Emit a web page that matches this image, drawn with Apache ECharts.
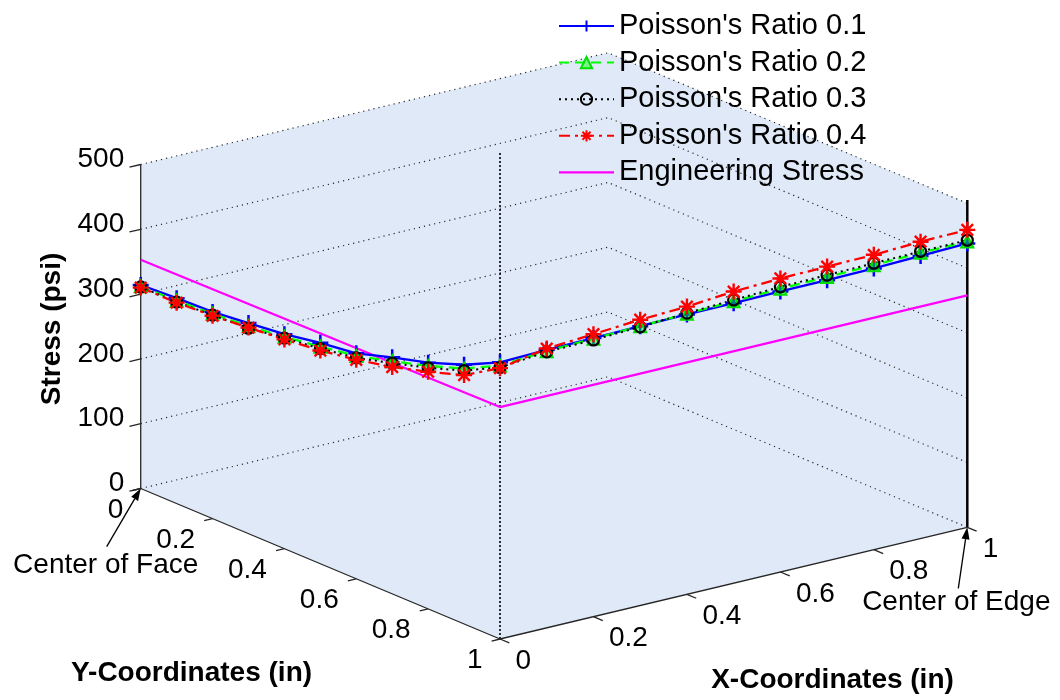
<!DOCTYPE html>
<html>
<head>
<meta charset="utf-8">
<script src="https://cdn.jsdelivr.net/npm/echarts@6/dist/echarts.min.js"></script>
<style>
html,body{margin:0;padding:0;background:#ffffff;}
#chart{width:1060px;height:700px;}
</style>
</head>
<body>
<div id="chart"></div>
<script>
// ---------------- DATA ----------------
// positions along the face (X = 0, Y from 0 to 1) and along the edge (Y = 1, X from 0 to 1)
const faceY = [0, 0.1, 0.2, 0.3, 0.4, 0.5, 0.6, 0.7, 0.8, 0.9, 1];
const edgeX = [0, 0.1, 0.2, 0.3, 0.4, 0.5, 0.6, 0.7, 0.8, 0.9, 1];

// stress (psi) along the face, Y = 0 .. 1
const nu01Face = [314, 317, 319, 325, 331, 341, 348, 365, 380, 400, 427];
const nu02Face = [312, 313, 316, 320, 327, 335, 344, 359, 375, 394, 422];
const nu03Face = [311, 311, 314, 317, 325, 332, 341, 356, 372, 391, 419];
const nu04Face = [310, 310, 313, 318, 323, 329, 338, 350, 366, 384, 418];
// stress (psi) along the edge, X = 0 .. 1
const nu01Edge = [427, 429, 430, 431, 432, 432, 433, 433, 434, 436, 438];
const nu02Edge = [422, 427, 429, 431, 433, 435, 437, 438, 439, 441, 441];
const nu03Edge = [419, 426, 427, 430, 434, 437, 440, 441, 442, 443, 443];
const nu04Edge = [418, 431, 436, 441, 444, 450, 453, 454, 455, 458, 459];
// engineering stress
const engFaceY = [0, 1];
const engFace = [353, 358];
const engEdgeX = [0, 1];
const engEdge = [358, 358];

const seriesNames = ["Poisson's Ratio 0.1", "Poisson's Ratio 0.2", "Poisson's Ratio 0.3", "Poisson's Ratio 0.4", "Engineering Stress"];

// axis ticks
const zTicks = [0, 100, 200, 300, 400, 500];
const zTickLabels = ['0', '100', '200', '300', '400', '500'];
const yTicks = [0, 0.2, 0.4, 0.6, 0.8, 1];
const yTickLabels = ['0', '0.2', '0.4', '0.6', '0.8', '1'];
const xTicks = [0, 0.2, 0.4, 0.6, 0.8, 1];
const xTickLabels = ['0', '0.2', '0.4', '0.6', '0.8', '1'];
const zMax = 500;
const cornerLineTop = 750;   // dotted marker line at the corner
const edgeLineTop = 505;     // solid marker line at center of edge

// ---------------- PROJECTION (3-D view) ----------------
const P0 = [140.7, 488.5];       // (X=0,Y=0,Z=0)
const EX = [467.3, -111.7];      // X 0->1
const EY = [359.3, 150.5];       // Y 0->1
const EZ = -0.648;               // per psi
function proj(x, y, z) {
  return [P0[0] + x * EX[0] + y * EY[0], P0[1] + x * EX[1] + y * EY[1] + z * EZ];
}
function pathOf(face, edge, fY, eX) {
  const pts = [];
  for (let i = 0; i < fY.length; i++) pts.push(proj(0, fY[i], face[i]));
  for (let j = 1; j < eX.length; j++) pts.push(proj(eX[j], 1, edge[j]));
  return pts;
}

const FONT = "'Liberation Sans', Arial, Helvetica, sans-serif";
const gridCol = '#2a2a2a';
const axisCol = '#262626';

function lineSeries(segs, style, z) {
  return {
    type: 'custom', coordinateSystem: 'cartesian2d', silent: true, z: z,
    data: segs.map((s, i) => [i, 0]),
    renderItem: function (params, api) {
      const s = segs[params.dataIndex];
      return { type: 'polyline', shape: { points: s.map(p => api.coord(p)) }, style: style };
    }
  };
}
function textSeries(items, z) {
  return {
    type: 'custom', coordinateSystem: 'cartesian2d', silent: true, z: z,
    data: items.map((s, i) => [i, 0]),
    renderItem: function (params, api) {
      const t = items[params.dataIndex];
      const c = api.coord(t.p);
      return {
        type: 'text', x: c[0] + (t.dx || 0), y: c[1] + (t.dy || 0), rotation: t.rot || 0,
        style: {
          text: t.text, fill: '#000', fontFamily: FONT, fontSize: t.size || 28,
          fontWeight: t.bold ? 'bold' : 'normal', align: t.align || 'center', verticalAlign: 'middle'
        }
      };
    }
  };
}

// background box
const bgSeries = {
  type: 'custom', coordinateSystem: 'cartesian2d', silent: true, z: 0,
  data: [[0, 0]],
  renderItem: function (params, api) {
    const pts = [proj(0, 0, 0), proj(0, 0, zMax), proj(1, 0, zMax), proj(1, 1, zMax), proj(1, 1, 0), proj(0, 1, 0)];
    return { type: 'polygon', shape: { points: pts.map(p => api.coord(p)) }, style: { fill: '#dfe9f7' } };
  }
};

// z grid lines on the back walls
const gridSegs = zTicks.map(z => [proj(0, 0, z), proj(1, 0, z), proj(1, 1, z)]);

// axes
const axisSegs = [
  [proj(0, 0, 0), proj(0, 0, zMax)],
  [proj(0, 0, 0), proj(0, 1, 0)],
  [proj(0, 1, 0), proj(1, 1, 0)]
];
zTicks.forEach(z => axisSegs.push([proj(0, 0, z), proj(-0.024, 0, z)]));
yTicks.forEach(y => axisSegs.push([proj(0, y, 0), proj(-0.018, y, 0)]));
xTicks.forEach(x => axisSegs.push([proj(x, 1, 0), proj(x, 1.026, 0)]));

// tick labels
const labels = [];
zTicks.forEach((z, i) => labels.push({ p: proj(0, 0, z), dx: -16.5, dy: -5, text: zTickLabels[i], align: 'right' }));
yTicks.forEach((y, i) => labels.push({ p: proj(0, y, 0), dx: -17.5, dy: 21.5, text: yTickLabels[i], align: 'right' }));
xTicks.forEach((x, i) => labels.push({ p: proj(x, 1, 0), dx: 15.5, dy: 22, text: xTickLabels[i], align: 'left' }));
// axis titles
labels.push({ p: [52, 329], text: 'Stress (psi)', bold: true, rot: Math.PI / 2 });
labels.push({ p: [191.5, 673], text: 'Y-Coordinates (in)', bold: true });
labels.push({ p: [832.5, 680], text: 'X-Coordinates (in)', bold: true });
// annotations
labels.push({ p: proj(0, 0, 0), dx: -35, dy: 77, text: 'Center of Face' });
labels.push({ p: proj(1, 1, 0), dx: -11, dy: 75, text: 'Center of Edge' });

// annotation arrows
const arrows = [
  { tip: proj(0, 0, 0), tail: [106.7, 546.7] },
  { tip: proj(1, 1, 0), tail: [958.3, 588.3] }
];
const arrowSeries = {
  type: 'custom', coordinateSystem: 'cartesian2d', silent: true, z: 7,
  data: arrows.map((a, i) => [i, 0]),
  renderItem: function (params, api) {
    const a = arrows[params.dataIndex];
    const t = api.coord(a.tip), s = api.coord(a.tail);
    const dx = t[0] - s[0], dy = t[1] - s[1], L = Math.hypot(dx, dy);
    const ux = dx / L, uy = dy / L, hl = 12, hw = 4;
    const b = [t[0] - ux * hl, t[1] - uy * hl];
    return {
      type: 'group', children: [
        { type: 'line', shape: { x1: s[0], y1: s[1], x2: b[0], y2: b[1] }, style: { stroke: '#000', lineWidth: 1.3 } },
        { type: 'polygon', shape: { points: [t, [b[0] - uy * hw, b[1] + ux * hw], [b[0] + uy * hw, b[1] - ux * hw]] }, style: { fill: '#000' } }
      ]
    };
  }
};

const plusPath = 'path://M-1,0L1,0M0,-1L0,1';
const starPath = 'path://M-1,0L1,0M0,-1L0,1M-0.72,-0.72L0.72,0.72M-0.72,0.72L0.72,-0.72';

const dataSeries = [
  {
    name: seriesNames[0], type: 'line', z: 6, data: pathOf(nu01Face, nu01Edge, faceY, edgeX),
    symbol: plusPath, symbolSize: 16, color: '#0000ff',
    lineStyle: { color: '#0000ff', width: 2.3, type: 'solid' },
    itemStyle: { color: '#0000ff', borderColor: '#0000ff', borderWidth: 2.5 }
  },
  {
    name: seriesNames[1], type: 'line', z: 6, data: pathOf(nu02Face, nu02Edge, faceY, edgeX),
    symbol: 'triangle', symbolSize: 12, color: '#00ff00',
    lineStyle: { color: '#00ff00', width: 2.3, type: [10, 6] },
    itemStyle: { color: 'rgba(0,255,0,0.45)', borderColor: '#00e000', borderWidth: 2 }
  },
  {
    name: seriesNames[2], type: 'line', z: 6, data: pathOf(nu03Face, nu03Edge, faceY, edgeX),
    symbol: 'circle', symbolSize: 11, color: '#000000',
    lineStyle: { color: '#000000', width: 2, type: [2, 4] },
    itemStyle: { color: 'rgba(0,0,0,0)', borderColor: '#000000', borderWidth: 2.2 }
  },
  {
    name: seriesNames[3], type: 'line', z: 6, data: pathOf(nu04Face, nu04Edge, faceY, edgeX),
    symbol: starPath, symbolSize: 16, color: '#ff0000',
    lineStyle: { color: '#ff0000', width: 2.3, type: [11, 5, 3, 5] },
    itemStyle: { color: '#ff0000', borderColor: '#ff0000', borderWidth: 2.4 }
  },
  {
    name: seriesNames[4], type: 'line', z: 5, data: pathOf(engFace, engEdge, engFaceY, engEdgeX),
    symbol: 'none', color: '#ff00ff',
    lineStyle: { color: '#ff00ff', width: 2.3 }
  }
];

const legendData = seriesNames.map((n, i) => i === 4 ? { name: n, icon: 'path://M0,0L55,0L55,2.4L0,2.4Z' } : { name: n });

const option = {
  animation: false,
  backgroundColor: '#ffffff',
  grid: { left: 0, top: 0, width: 1060, height: 700, containLabel: false },
  xAxis: { type: 'value', min: 0, max: 1060, show: false },
  yAxis: { type: 'value', min: 0, max: 700, inverse: true, show: false },
  legend: {
    data: legendData, orient: 'vertical', left: 553, top: 6,
    itemWidth: 55, itemHeight: 14, itemGap: 6.6,
    textStyle: { fontFamily: FONT, fontSize: 29, color: '#000', lineHeight: 30 },
    backgroundColor: 'transparent', selectedMode: false
  },
  series: [
    bgSeries,
    lineSeries(gridSegs, { stroke: gridCol, lineWidth: 1.2, lineDash: [1.2, 4], fill: null }, 1),
    lineSeries([[proj(0, 1, 0), proj(0, 1, cornerLineTop)]], { stroke: '#000', lineWidth: 1.6, lineDash: [2, 2], fill: null }, 2),
    lineSeries([[proj(1, 1, 0), proj(1, 1, edgeLineTop)]], { stroke: '#000', lineWidth: 2.5, fill: null }, 2),
    lineSeries(axisSegs, { stroke: axisCol, lineWidth: 1.3, fill: null }, 3),
    textSeries(labels, 7),
    arrowSeries
  ].concat(dataSeries)
};

const chart = echarts.init(document.getElementById('chart'), null, { renderer: 'canvas' });
chart.setOption(option);
</script>
</body>
</html>
